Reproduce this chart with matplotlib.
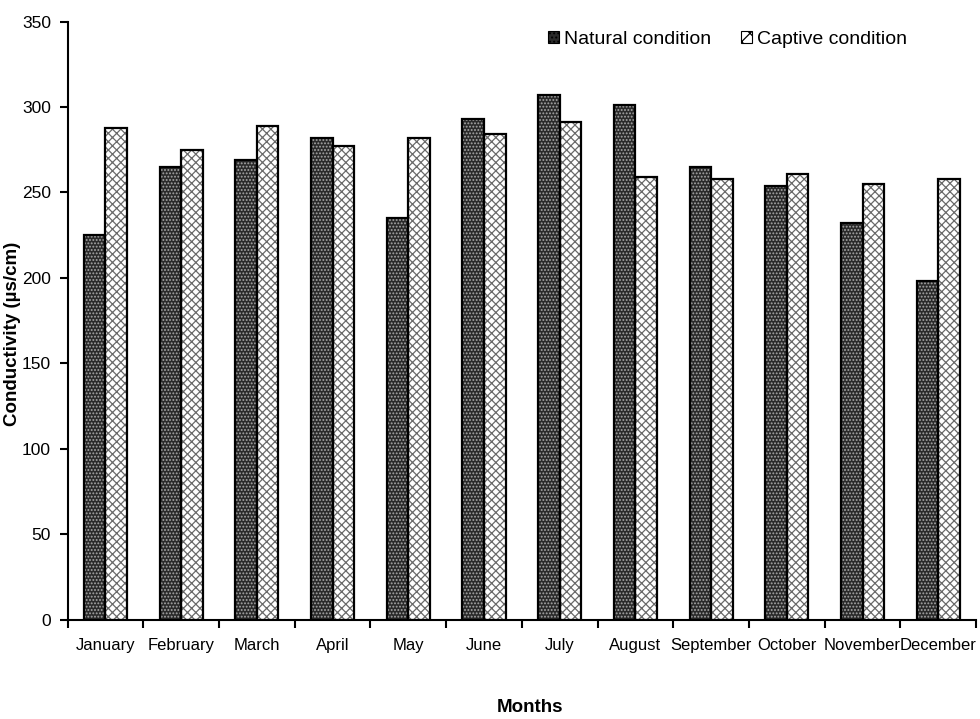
import numpy as np
import matplotlib
matplotlib.use("Agg")
from matplotlib import pyplot as plt
from matplotlib.patches import Patch

months = ["January", "February", "March", "April", "May", "June", "July",
          "August", "September", "October", "November", "December"]
natural = [225, 265, 269, 282, 235, 293, 307, 301, 265, 254, 232, 198]
captive = [288, 275, 289, 277, 282, 284, 291, 259, 258, 261, 255, 258]
yticks = [0, 50, 100, 150, 200, 250, 300, 350]

plt.rcParams['font.family'] = ['Liberation Sans', 'DejaVu Sans']
plt.rcParams['hatch.linewidth'] = 0.9

fig = plt.figure(figsize=(9.8, 7.19), dpi=100)
ax = fig.add_axes([0.069, 0.138, 0.927, 0.832])

x = np.arange(len(months))
w = 0.285

# fills with hatch (hatch colour = edgecolor), outline drawn after
ax.bar(x - w/2, natural, w, color='#2a2a2a', edgecolor='#a8a8a8', hatch='.....', linewidth=0)
ax.bar(x + w/2, captive, w, color='white', edgecolor='#6a6a6a', hatch='xxxx', linewidth=0)
ax.bar(x - w/2, natural, w, fill=False, edgecolor='black', linewidth=1.6)
ax.bar(x + w/2, captive, w, fill=False, edgecolor='black', linewidth=1.6)

h1 = Patch(facecolor='#2a2a2a', edgecolor='#a8a8a8', hatch='....', linewidth=0)
h2 = Patch(facecolor='white', edgecolor='#6a6a6a', hatch='xx', linewidth=0)
leg = ax.legend([h1, h2], ["Natural condition", "Captive condition"], ncol=2,
                loc='upper right', bbox_to_anchor=(0.943, 1.014), frameon=False,
                fontsize=14, handlelength=0.55, handleheight=0.55,
                handletextpad=0.25, columnspacing=1.55)
for p in leg.get_patches():
    p.set_edgecolor('black')
    p.set_linewidth(0.8)

ax.set_xlim(-0.5, len(months) - 0.5)
ax.set_ylim(0, 350)
ax.set_yticks(yticks)
ax.set_yticklabels([str(v) for v in yticks], fontsize=12.5)
ax.set_xticks(x)
ax.set_xticklabels(months, fontsize=12)
ax.set_xticks(np.arange(len(months) + 1) - 0.5, minor=True)
ax.tick_params(axis='x', which='major', length=0, pad=13)
ax.tick_params(axis='x', which='minor', length=6, width=1.5, direction='out')
ax.tick_params(axis='y', length=6, width=1.5, direction='out', pad=6)

for s in ['top', 'right']:
    ax.spines[s].set_visible(False)
for s in ['left', 'bottom']:
    ax.spines[s].set_linewidth(1.5)

ax.set_xlabel("Months", fontsize=13.5, fontweight='bold')
ax.xaxis.set_label_coords(0.509, -0.132)
ax.set_ylabel("Conductivity (µs/cm)", fontsize=13.5, fontweight='bold')
ax.yaxis.set_label_coords(-0.051, 0.478)

fig.savefig("out.png", dpi=100)
